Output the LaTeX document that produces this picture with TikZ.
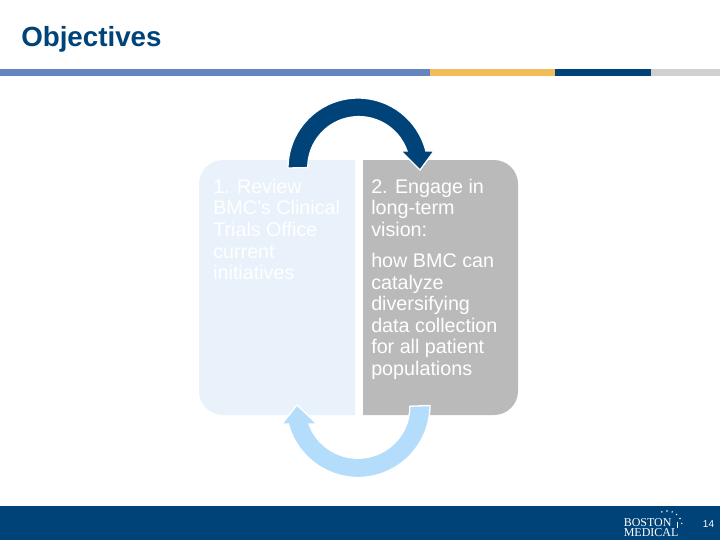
\documentclass[tikz,border=0pt]{standalone}
\usepackage{fontspec}
\setmainfont{Liberation Sans}
\newfontfamily\logofont{Liberation Serif}
\definecolor{bmcNavy}{RGB}{0,67,120}
\definecolor{bmcPale}{RGB}{233,242,251}
\definecolor{bmcGrey}{RGB}{186,186,186}
\definecolor{bmcSky}{RGB}{179,221,251}
\definecolor{barBlue}{RGB}{99,132,190}
\definecolor{barGold}{RGB}{243,188,90}
\definecolor{barLight}{RGB}{208,208,208}
\tikzset{slide/.style={
  x=0.75pt, y=-0.75pt,
  bartile/.style={draw=none, minimum height=5.25pt, inner sep=0pt, anchor=north west},
  body/.style={anchor=north west, inner sep=0pt, align=left, text=white, font=\fontsize{14.8}{16.2}\selectfont},
  blockarrow/.style={draw=white, line width=1pt, line join=miter},
  logotext/.style={anchor=north west, inner sep=0pt, align=left, text=white, font=\logofont\fontsize{9}{6}\selectfont},
}}

\begin{document}
\begin{tikzpicture}[slide]
\useasboundingbox (0,0) rectangle (720,540);

\node[anchor=base west, inner sep=0pt, text=bmcNavy, font=\fontsize{20.8}{24}\selectfont\bfseries] (title) at (21,46.5) {Objectives};

% =====================================================================
% Rule under the title
% =====================================================================
\node[bartile, fill=barBlue, minimum width=322.5pt] (barA) at (0,69) {};
\node[bartile, fill=barGold, minimum width=93.75pt] (barB) at (430,69) {};
\node[bartile, fill=bmcNavy, minimum width=72pt] (barC) at (555,69) {};
\node[bartile, fill=barLight, minimum width=51.75pt] (barD) at (651,69) {};

% =====================================================================
% Two panels
% =====================================================================
\fill[bmcPale] (355,160) [rounded corners=18pt] -- (199,160) -- (199,415) [sharp corners] -- (355,415) -- cycle;
\fill[bmcGrey] (363,160) [rounded corners=18pt] -- (518,160) -- (518,415) [sharp corners] -- (363,415) -- cycle;

\node[body] (review) at (213,178.7) {1. Review\\BMC's Clinical\\Trials Office\\current\\initiatives};
\node[body] (engage) at (371,178.7) {2. Engage in\\long-term\\vision:\\[7pt]how BMC can\\catalyze\\diversifying\\data collection\\for all patient\\populations};

% =====================================================================
% Block arrows
% =====================================================================
\filldraw[blockarrow, fill=bmcNavy] (288,168) arc[start angle=180, end angle=346, radius=70]
  -- (434,151) -- (420,170) -- (401,151) -- (407,151)
  arc[start angle=341, end angle=180, radius=51] -- cycle;
\filldraw[blockarrow, fill=bmcSky] (430,405.5) arc[start angle=0, end angle=165, radius=72]
  -- (282,424) -- (297,405) -- (317,424) -- (309,424)
  arc[start angle=160, end angle=0, radius=52] -- cycle;

% =====================================================================
% Footer
% =====================================================================
\fill[bmcNavy] (0,506) rectangle (720,540);
\node[logotext] (logo) at (623.5,518.5) {BOSTON\\MEDICAL};
\foreach \a in {250,270,...,350}{
  \fill[white] (667,526) ++(\a:15) circle (0.8);
}
\draw[white, line width=0.4pt] (677,522) -- (677,528);
\node[anchor=base, inner sep=0pt, text=white, font=\fontsize{7.5}{8}\selectfont] (pagenum) at (708.5,527.5) {14};

\end{tikzpicture}
\end{document}
